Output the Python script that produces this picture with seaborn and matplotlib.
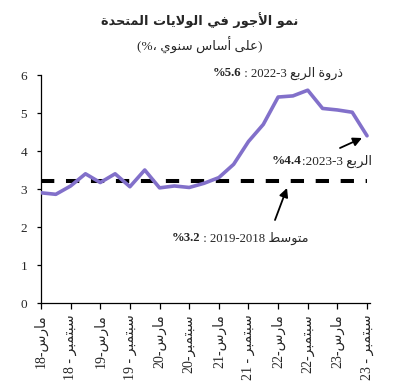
import re
import numpy as np
import pandas as pd
import matplotlib
matplotlib.use("Agg")
import matplotlib.pyplot as plt
import matplotlib.transforms as mtrans
import seaborn as sns

# ---------------- data ----------------
quarter_idx = list(range(23))  # Mar-18 (Q1 2018) ... Sep-23 (Q3 2023), quarterly
wage_growth = [2.90, 2.86, 3.08, 3.40, 3.17, 3.40, 3.06, 3.50, 3.03, 3.08, 3.04, 3.15,
               3.30, 3.65, 4.25, 4.70, 5.42, 5.45, 5.60, 5.12, 5.08, 5.02, 4.40]
avg_2018_2019 = 3.2
tick_labels = ["مارس-18", "سبتمبر - 18", "مارس-19", "سبتمبر - 19", "مارس-20", "سبتمبر-20",
               "مارس-21", "سبتمبر - 21", "مارس-22", "سبتمبر-22", "مارس-23", "سبتمبر - 23"]
yticks = [0, 1, 2, 3, 4, 5, 6]
title_ar = "نمو الأجور في الولايات المتحدة"
subtitle_ar = "على أساس سنوي"
peak_ar, peak_period, peak_val = "ذروة الربع", "2022-3", "%5.6"
last_ar, last_period, last_val = "الربع", "2023-3", "%4.4"
avg_ar, avg_period, avg_val = "متوسط", "2019-2018", "%3.2"

# ------------- Arabic shaping (presentation forms) -------------
_seq = [('ء', 1), ('آ', 2), ('أ', 2), ('ؤ', 2), ('إ', 2), ('ئ', 4), ('ا', 2), ('ب', 4), ('ة', 2),
        ('ت', 4), ('ث', 4), ('ج', 4), ('ح', 4), ('خ', 4), ('د', 2), ('ذ', 2), ('ر', 2), ('ز', 2),
        ('س', 4), ('ش', 4), ('ص', 4), ('ض', 4), ('ط', 4), ('ظ', 4), ('ع', 4), ('غ', 4), ('ف', 4),
        ('ق', 4), ('ك', 4), ('ل', 4), ('م', 4), ('ن', 4), ('ه', 4), ('و', 2), ('ى', 2), ('ي', 4)]
FORMS = {}
_cp = 0xFE80
for _c, _n in _seq:
    FORMS[_c] = [chr(_cp + k) for k in range(_n)]
    _cp += _n
LAMALEF = {'آ': 0xFEF5, 'أ': 0xFEF7, 'إ': 0xFEF9, 'ا': 0xFEFB}


def shape(text):
    toks = []
    i = 0
    while i < len(text):
        c = text[i]
        if c == 'ل' and i + 1 < len(text) and text[i + 1] in LAMALEF:
            base = LAMALEF[text[i + 1]]
            toks.append(('LA', [chr(base), chr(base + 1)]))
            i += 2
            continue
        if c in FORMS:
            toks.append((c, FORMS[c]))
        else:
            toks.append((c, None))
        i += 1

    def dual(t):
        return t[1] is not None and len(t[1]) == 4

    def joining(t):
        return t[1] is not None and len(t[1]) >= 2

    out = []
    for k, t in enumerate(toks):
        if t[1] is None:
            out.append(t[0])
            continue
        prev_j = k > 0 and dual(toks[k - 1])
        next_j = k + 1 < len(toks) and joining(toks[k + 1])
        f = t[1]
        if len(f) == 4:
            if prev_j and next_j:
                out.append(f[3])
            elif prev_j:
                out.append(f[1])
            elif next_j:
                out.append(f[2])
            else:
                out.append(f[0])
        elif len(f) == 2:
            out.append(f[1] if prev_j else f[0])
        else:
            out.append(f[0])
    return "".join(out)


def rtl(text):
    return shape(text)[::-1]


def tick_vis(lbl):
    m = re.match(r"^(\D+?)(\s*-\s*)(\d+)$", lbl)
    word, sep, num = m.groups()
    return num + sep[::-1] + rtl(word)


# ---------------- figure ----------------
sns.set_style("white")
FAM = ['Liberation Serif', 'DejaVu Sans']
plt.rcParams['font.family'] = FAM

fig = plt.figure(figsize=(4.08, 3.81), dpi=100)
ax = fig.add_axes([41 / 408, 1 - 303 / 381, (370 - 41) / 408, (303 - 75) / 381])

df = pd.DataFrame({"q": quarter_idx, "w": wage_growth})
sns.lineplot(data=df, x="q", y="w", ax=ax, color="#8270CA", lw=2.6, zorder=3)
ax.hlines(avg_2018_2019, quarter_idx[0], quarter_idx[-1], colors="black", lw=2.9,
          linestyles=(0, (3.3, 2.9)), zorder=2)

ax.set_xlim(0, 22.2)
ax.set_ylim(0, 6)
ax.set_xticks(quarter_idx[::2])
ax.set_xticklabels([tick_vis(t) for t in tick_labels], rotation=90, va="top", ha="center",
                   fontsize=10, family=FAM)
shift = mtrans.ScaledTranslation(3 / 100, 0, fig.dpi_scale_trans)
for t in ax.get_xticklabels():
    t.set_transform(t.get_transform() + shift)
ax.set_yticks(yticks)
ax.set_yticklabels([str(v) for v in yticks], fontsize=9.5, family=FAM)
ax.set_xlabel("")
ax.set_ylabel("")
for s in ["top", "right"]:
    ax.spines[s].set_visible(False)
for s in ["left", "bottom"]:
    ax.spines[s].set_color("black")
    ax.spines[s].set_linewidth(0.9)
ax.tick_params(axis="x", direction="out", length=4, width=0.9, pad=4, color="black", bottom=True)
ax.tick_params(axis="y", direction="out", length=3, width=0.9, pad=7, color="black", left=True)
ax.grid(False)

# title & subtitle
fig.text(200 / 408, 1 - 20 / 381, rtl(title_ar), ha="center", va="center",
         fontsize=9.3, fontweight="bold", family=['DejaVu Sans'])
fig.text(200 / 408, 1 - 45 / 381, "(%، " + rtl(subtitle_ar) + ")", ha="center", va="center",
         fontsize=9.5, family=FAM)


def px2data(px, py):
    return ((px - 41) / 14.82, (303 - py) / 38.0)


def label(boundary_px, y_px, bold_txt, normal_txt, fs=9.5):
    x, y = px2data(boundary_px, y_px)
    ax.text(x, y, bold_txt, ha="right", va="center", fontsize=fs, fontweight="bold",
            family=FAM, clip_on=False)
    ax.text(x, y, normal_txt, ha="left", va="center", fontsize=fs, family=FAM, clip_on=False)


label(241, 73, peak_val, " : " + peak_period + " " + rtl(peak_ar), fs=9.2)
label(302, 161, last_val, ":" + last_period + " " + rtl(last_ar), fs=9.5)
label(200, 238, avg_val, " : " + avg_period + " " + rtl(avg_ar), fs=9.2)

arrow = dict(arrowstyle="-|>", color="black", lw=1.3, mutation_scale=13, shrinkA=0, shrinkB=0)
ax.annotate("", xy=px2data(362, 138), xytext=px2data(340, 148), arrowprops=arrow)
ax.annotate("", xy=px2data(287, 188), xytext=px2data(275, 220), arrowprops=arrow)

fig.savefig("out.png", dpi=100)
